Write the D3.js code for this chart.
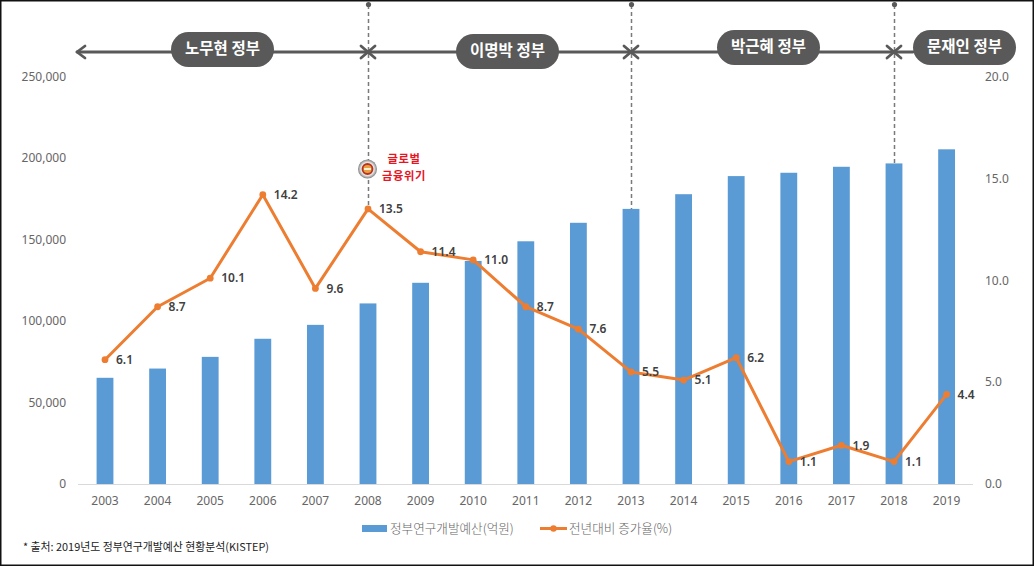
<!DOCTYPE html>
<html><head><meta charset="utf-8">
<script src="https://cdn.jsdelivr.net/npm/d3@7/dist/d3.min.js"></script>
<style>
html,body{margin:0;padding:0;background:#fff;overflow:hidden}
svg{display:block}
text{font-family:"Noto Sans CJK KR","Noto Sans",sans-serif}
</style></head><body>
<svg id="c" width="1034" height="566"></svg>
<script>
const years = ["2003","2004","2005","2006","2007","2008","2009","2010","2011","2012","2013","2014","2015","2016","2017","2018","2019"];
const budget = [65154,70827,77996,89096,97629,110784,123437,136827,148902,160244,168777,177793,188900,190942,194615,196681,205328];
const growth = [6.1,8.7,10.1,14.2,9.6,13.5,11.4,11.0,8.7,7.6,5.5,5.1,6.2,1.1,1.9,1.1,4.4];
const leftTicks = [0,50000,100000,150000,200000,250000];
const rightTicks = [0,5,10,15,20];
const eraNames = ["노무현 정부","이명박 정부","박근혜 정부","문재인 정부"];
const eraYears = ["2008","2013","2018"];
const seriesNames = ["정부연구개발예산(억원)","전년대비 증가율(%)"];
const noteLines = ["글로벌","금융위기"];
const sourceText = "* 출처: 2019년도 정부연구개발예산 현황분석(KISTEP)";

const svg = d3.select("#c");
const x = d3.scaleBand().domain(years).range([78.7,972.9]).paddingInner(0.68).paddingOuter(0.34);
const yL = d3.scaleLinear().domain([0,250000]).range([484,76.5]);
const yR = d3.scaleLinear().domain([0,20]).range([484,76.5]);
const cx = d => x(d)+x.bandwidth()/2;
const grey="#666666", orange="#ED7D31", blue="#5B9BD5";

svg.append("rect").attr("x",0.75).attr("y",0.75).attr("width",1032.5).attr("height",564.5)
  .attr("fill","#fff").attr("stroke","#111").attr("stroke-width",1.5);

// axes
const axL = d3.axisLeft(yL).tickValues(leftTicks).tickSize(0).tickPadding(0).tickFormat(d3.format(","));
const gL = svg.append("g").attr("transform","translate(66,0)").call(axL);
const axR = d3.axisRight(yR).tickValues(rightTicks).tickSize(0).tickPadding(0).tickFormat(d3.format(".1f"));
const gR = svg.append("g").attr("transform","translate(985,0)").call(axR);
const axB = d3.axisBottom(x).tickSize(0).tickPadding(10);
const gB = svg.append("g").attr("transform","translate(0,484)").call(axB);
[gL,gR,gB].forEach(g=>{g.select(".domain").remove();
  g.selectAll("text").attr("fill",grey).style("font-size","12px").style("font-family",'"Noto Sans","Noto Sans CJK KR",sans-serif');});
gB.selectAll("text").attr("dy","0.9em");
svg.append("line").attr("x1",78).attr("x2",973).attr("y1",484.5).attr("y2",484.5).attr("stroke","#d9d9d9");

// bars
svg.append("g").selectAll("rect").data(budget).join("rect")
  .attr("x",(d,i)=>x(years[i])).attr("width",x.bandwidth())
  .attr("y",d=>yL(d)).attr("height",d=>yL(0)-yL(d)).attr("fill",blue);

// era boundary dashed lines
const gv = svg.append("g");
eraYears.forEach(yr=>{
  const i = years.indexOf(yr), px = Math.round(cx(yr))+0.5;
  const bottom = yr==="2008" ? yR(growth[i]) : yL(budget[i]);
  gv.append("line").attr("x1",px).attr("x2",px).attr("y1",5).attr("y2",bottom)
    .attr("stroke","#7a7a7a").attr("stroke-width",1.5).attr("stroke-dasharray","4 3");
  gv.append("circle").attr("cx",px).attr("cy",4.5).attr("r",2.6).attr("fill","#595959");
});

// line
svg.append("path").datum(growth)
  .attr("d",d3.line().x((d,i)=>cx(years[i])).y(d=>yR(d)))
  .attr("fill","none").attr("stroke",orange).attr("stroke-width",3).attr("stroke-linejoin","round");
svg.append("g").selectAll("circle").data(growth).join("circle")
  .attr("cx",(d,i)=>cx(years[i])).attr("cy",d=>yR(d)).attr("r",3.4).attr("fill",orange);
svg.append("g").selectAll("text").data(growth).join("text")
  .attr("x",(d,i)=>cx(years[i])+11).attr("y",d=>yR(d)+1)
  .attr("dominant-baseline","middle").attr("fill","#404040")
  .style("font-size","12px").style("font-weight","600").style("font-family",'"Noto Sans",sans-serif')
  .text(d=>d.toFixed(1));

// era arrows
const arrowY = 52;
const ends = [77, cx("2008"), cx("2013"), cx("2018"), 913];
const ag = svg.append("g").attr("stroke","#595959").attr("fill","none").attr("stroke-linecap","round").attr("stroke-linejoin","round");
ag.append("line").attr("x1",ends[0]).attr("x2",ends[4]).attr("y1",arrowY).attr("y2",arrowY).attr("stroke-width",2.8);
ag.append("path").attr("stroke-width",2.8).attr("d",`M${ends[0]+8},${arrowY-6}L${ends[0]},${arrowY}L${ends[0]+8},${arrowY+6}`);
ends.slice(1,4).forEach(e=>{
  ag.append("path").attr("stroke-width",2.8).attr("d",`M${e-7},${arrowY-6}L${e+7},${arrowY+6}M${e-7},${arrowY+6}L${e+7},${arrowY-6}`);
});

// era pills
const pillX=[171,456,717,913], pillY=[32,34,30,30];
eraNames.forEach((n,i)=>{
  svg.append("rect").attr("x",pillX[i]).attr("y",pillY[i]).attr("width",103).attr("height",35).attr("rx",17.5).attr("fill","#595959");
  svg.append("text").attr("x",pillX[i]+51.5).attr("y",pillY[i]+18).attr("text-anchor","middle").attr("dominant-baseline","middle")
    .attr("fill","#fff").style("font-size","15.5px").style("font-weight","700").text(n);
});

// crisis marker
const defs = svg.append("defs");
const rg = defs.append("radialGradient").attr("id","orb");
rg.append("stop").attr("offset","0%").attr("stop-color","#ffffff");
rg.append("stop").attr("offset","70%").attr("stop-color","#e4e4e4");
rg.append("stop").attr("offset","100%").attr("stop-color","#7f7f7f");
const mx = cx("2008")-0.5, my = 169;
svg.append("circle").attr("cx",mx).attr("cy",my).attr("r",9.5).attr("fill","url(#orb)");
svg.append("circle").attr("cx",mx).attr("cy",my).attr("r",5).attr("fill","#e8a13c").attr("stroke","#b8321f").attr("stroke-width",1.8);
svg.append("line").attr("x1",mx-3.5).attr("x2",mx+3.5).attr("y1",my).attr("y2",my).attr("stroke","#fbeed8").attr("stroke-width",2);
noteLines.forEach((t,i)=>svg.append("text").attr("x",404).attr("y",160+i*16.5).attr("text-anchor","middle")
  .attr("dominant-baseline","middle").attr("fill","#e8141f").style("font-size","11.3px").style("letter-spacing","0.6px").style("font-weight","700").text(t));

// legend
svg.append("rect").attr("x",362).attr("y",525).attr("width",25).attr("height",7).attr("fill",blue);
svg.append("text").attr("x",390).attr("y",529.5).attr("dominant-baseline","middle").attr("fill",grey).style("font-size","12.6px").style("font-weight","300").text(seriesNames[0]);
svg.append("line").attr("x1",540).attr("x2",567).attr("y1",528.5).attr("y2",528.5).attr("stroke",orange).attr("stroke-width",3);
svg.append("circle").attr("cx",553.5).attr("cy",528.5).attr("r",3.2).attr("fill",orange);
svg.append("text").attr("x",569).attr("y",529.5).attr("dominant-baseline","middle").attr("fill",grey).style("font-size","12.6px").style("font-weight","300").text(seriesNames[1]);

// source
svg.append("text").attr("x",23).attr("y",548).attr("dominant-baseline","middle").attr("fill","#222").style("font-size","10.9px").text(sourceText);
</script>
</body></html>
